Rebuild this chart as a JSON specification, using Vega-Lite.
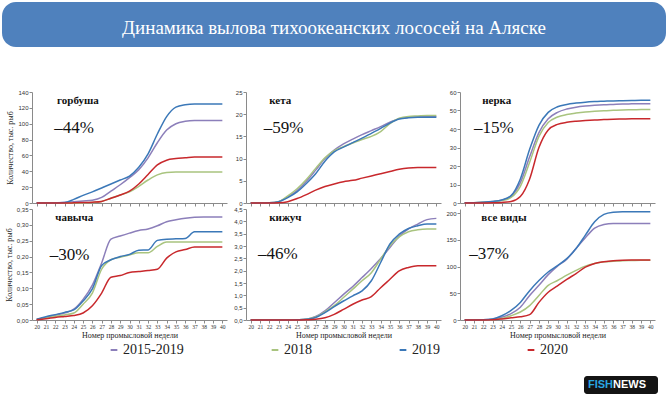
{
"$schema": "https://vega.github.io/schema/vega-lite/v6.json",
"background": "white",
"padding": {"left": 2, "right": 2, "top": 2, "bottom": 0},
"config": {
  "locale": {"number": {"decimal": ",", "thousands": " ", "grouping": [3], "currency": ["", ""]}},
  "view": {"stroke": null},
  "font": "Liberation Serif",
  "axis": {"domainColor": "#8a8a8a", "tickColor": "#8a8a8a", "tickSize": 3, "grid": false, "labelColor": "#333333", "labelFontSize": 6, "labelPadding": 1, "labelOverlap": false, "labelFlush": false, "titleFont": "Liberation Serif", "titleFontSize": 8, "titleFontWeight": "normal", "titleColor": "#222222"},
  "axisY": {"labelFont": "Liberation Sans", "titlePadding": 3},
  "axisX": {"labelFont": "Liberation Serif", "labelFontSize": 5.5, "labelAngle": 0, "titlePadding": 2},
  "legend": {"orient": "none", "legendX": 105, "legendY": 341, "direction": "horizontal", "columns": 4, "columnPadding": 83, "labelFont": "Liberation Serif", "labelFontSize": 14, "labelColor": "#222222", "symbolType": "stroke", "symbolStrokeWidth": 2, "symbolSize": 45, "labelOffset": 2, "padding": 0}
},
"datasets": {
"labels": [
 {"species": "горбуша", "pct": "–44%"},
 {"species": "кета", "pct": "–59%"},
 {"species": "нерка", "pct": "–15%"},
 {"species": "чавыча", "pct": "–30%"},
 {"species": "кижуч", "pct": "–46%"},
 {"species": "все виды", "pct": "–37%"}
],
"catch": [
{"species":"горбуша","series":"2015-2019","week":20,"value":0},{"species":"горбуша","series":"2015-2019","week":21,"value":0},{"species":"горбуша","series":"2015-2019","week":22,"value":0.2},{"species":"горбуша","series":"2015-2019","week":23,"value":0.5},{"species":"горбуша","series":"2015-2019","week":24,"value":1.5},{"species":"горбуша","series":"2015-2019","week":25,"value":2.5},{"species":"горбуша","series":"2015-2019","week":26,"value":3.5},{"species":"горбуша","series":"2015-2019","week":27,"value":7},{"species":"горбуша","series":"2015-2019","week":28,"value":15},{"species":"горбуша","series":"2015-2019","week":29,"value":23},{"species":"горбуша","series":"2015-2019","week":30,"value":32},{"species":"горбуша","series":"2015-2019","week":31,"value":42},{"species":"горбуша","series":"2015-2019","week":32,"value":57},{"species":"горбуша","series":"2015-2019","week":33,"value":76},{"species":"горбуша","series":"2015-2019","week":34,"value":92},{"species":"горбуша","series":"2015-2019","week":35,"value":100},{"species":"горбуша","series":"2015-2019","week":36,"value":103},{"species":"горбуша","series":"2015-2019","week":37,"value":104},{"species":"горбуша","series":"2015-2019","week":38,"value":104},{"species":"горбуша","series":"2015-2019","week":39,"value":104},{"species":"горбуша","series":"2015-2019","week":40,"value":104},
{"species":"горбуша","series":"2018","week":20,"value":0},{"species":"горбуша","series":"2018","week":21,"value":0},{"species":"горбуша","series":"2018","week":22,"value":0},{"species":"горбуша","series":"2018","week":23,"value":0},{"species":"горбуша","series":"2018","week":24,"value":0},{"species":"горбуша","series":"2018","week":25,"value":0.2},{"species":"горбуша","series":"2018","week":26,"value":0.5},{"species":"горбуша","series":"2018","week":27,"value":2},{"species":"горбуша","series":"2018","week":28,"value":6},{"species":"горбуша","series":"2018","week":29,"value":10},{"species":"горбуша","series":"2018","week":30,"value":14},{"species":"горбуша","series":"2018","week":31,"value":21},{"species":"горбуша","series":"2018","week":32,"value":29},{"species":"горбуша","series":"2018","week":33,"value":35.5},{"species":"горбуша","series":"2018","week":34,"value":38.5},{"species":"горбуша","series":"2018","week":35,"value":39},{"species":"горбуша","series":"2018","week":36,"value":39},{"species":"горбуша","series":"2018","week":37,"value":39},{"species":"горбуша","series":"2018","week":38,"value":39},{"species":"горбуша","series":"2018","week":39,"value":39},{"species":"горбуша","series":"2018","week":40,"value":39},
{"species":"горбуша","series":"2019","week":20,"value":0},{"species":"горбуша","series":"2019","week":21,"value":0},{"species":"горбуша","series":"2019","week":22,"value":0},{"species":"горбуша","series":"2019","week":23,"value":0.5},{"species":"горбуша","series":"2019","week":24,"value":4.6},{"species":"горбуша","series":"2019","week":25,"value":9.6},{"species":"горбуша","series":"2019","week":26,"value":14},{"species":"горбуша","series":"2019","week":27,"value":19},{"species":"горбуша","series":"2019","week":28,"value":24},{"species":"горбуша","series":"2019","week":29,"value":29},{"species":"горбуша","series":"2019","week":30,"value":34},{"species":"горбуша","series":"2019","week":31,"value":45},{"species":"горбуша","series":"2019","week":32,"value":62},{"species":"горбуша","series":"2019","week":33,"value":87},{"species":"горбуша","series":"2019","week":34,"value":109},{"species":"горбуша","series":"2019","week":35,"value":121},{"species":"горбуша","series":"2019","week":36,"value":124},{"species":"горбуша","series":"2019","week":37,"value":125},{"species":"горбуша","series":"2019","week":38,"value":125},{"species":"горбуша","series":"2019","week":39,"value":125},{"species":"горбуша","series":"2019","week":40,"value":125},
{"species":"горбуша","series":"2020","week":20,"value":0},{"species":"горбуша","series":"2020","week":21,"value":0},{"species":"горбуша","series":"2020","week":22,"value":0},{"species":"горбуша","series":"2020","week":23,"value":0},{"species":"горбуша","series":"2020","week":24,"value":0.2},{"species":"горбуша","series":"2020","week":25,"value":0.5},{"species":"горбуша","series":"2020","week":26,"value":1},{"species":"горбуша","series":"2020","week":27,"value":2},{"species":"горбуша","series":"2020","week":28,"value":6},{"species":"горбуша","series":"2020","week":29,"value":10},{"species":"горбуша","series":"2020","week":30,"value":15},{"species":"горбуша","series":"2020","week":31,"value":24},{"species":"горбуша","series":"2020","week":32,"value":36},{"species":"горбуша","series":"2020","week":33,"value":48},{"species":"горбуша","series":"2020","week":34,"value":54},{"species":"горбуша","series":"2020","week":35,"value":56},{"species":"горбуша","series":"2020","week":36,"value":57},{"species":"горбуша","series":"2020","week":37,"value":58},{"species":"горбуша","series":"2020","week":38,"value":58},{"species":"горбуша","series":"2020","week":39,"value":58},{"species":"горбуша","series":"2020","week":40,"value":58},
{"species":"кета","series":"2015-2019","week":20,"value":0},{"species":"кета","series":"2015-2019","week":21,"value":0},{"species":"кета","series":"2015-2019","week":22,"value":0.05},{"species":"кета","series":"2015-2019","week":23,"value":0.3},{"species":"кета","series":"2015-2019","week":24,"value":1.4},{"species":"кета","series":"2015-2019","week":25,"value":2.8},{"species":"кета","series":"2015-2019","week":26,"value":4.9},{"species":"кета","series":"2015-2019","week":27,"value":7.4},{"species":"кета","series":"2015-2019","week":28,"value":10},{"species":"кета","series":"2015-2019","week":29,"value":11.9},{"species":"кета","series":"2015-2019","week":30,"value":13.3},{"species":"кета","series":"2015-2019","week":31,"value":14.4},{"species":"кета","series":"2015-2019","week":32,"value":15.4},{"species":"кета","series":"2015-2019","week":33,"value":16.3},{"species":"кета","series":"2015-2019","week":34,"value":17.2},{"species":"кета","series":"2015-2019","week":35,"value":18.2},{"species":"кета","series":"2015-2019","week":36,"value":19.0},{"species":"кета","series":"2015-2019","week":37,"value":19.3},{"species":"кета","series":"2015-2019","week":38,"value":19.4},{"species":"кета","series":"2015-2019","week":39,"value":19.5},{"species":"кета","series":"2015-2019","week":40,"value":19.5},
{"species":"кета","series":"2018","week":20,"value":0},{"species":"кета","series":"2018","week":21,"value":0},{"species":"кета","series":"2018","week":22,"value":0.05},{"species":"кета","series":"2018","week":23,"value":0.3},{"species":"кета","series":"2018","week":24,"value":1.6},{"species":"кета","series":"2018","week":25,"value":3.2},{"species":"кета","series":"2018","week":26,"value":5.3},{"species":"кета","series":"2018","week":27,"value":7.8},{"species":"кета","series":"2018","week":28,"value":10.2},{"species":"кета","series":"2018","week":29,"value":11.8},{"species":"кета","series":"2018","week":30,"value":12.7},{"species":"кета","series":"2018","week":31,"value":13.5},{"species":"кета","series":"2018","week":32,"value":14.3},{"species":"кета","series":"2018","week":33,"value":15.0},{"species":"кета","series":"2018","week":34,"value":16.1},{"species":"кета","series":"2018","week":35,"value":17.9},{"species":"кета","series":"2018","week":36,"value":19.1},{"species":"кета","series":"2018","week":37,"value":19.5},{"species":"кета","series":"2018","week":38,"value":19.6},{"species":"кета","series":"2018","week":39,"value":19.7},{"species":"кета","series":"2018","week":40,"value":19.7},
{"species":"кета","series":"2019","week":20,"value":0},{"species":"кета","series":"2019","week":21,"value":0},{"species":"кета","series":"2019","week":22,"value":0.05},{"species":"кета","series":"2019","week":23,"value":0.3},{"species":"кета","series":"2019","week":24,"value":1.2},{"species":"кета","series":"2019","week":25,"value":2.5},{"species":"кета","series":"2019","week":26,"value":4.4},{"species":"кета","series":"2019","week":27,"value":6.6},{"species":"кета","series":"2019","week":28,"value":9.4},{"species":"кета","series":"2019","week":29,"value":11.5},{"species":"кета","series":"2019","week":30,"value":12.6},{"species":"кета","series":"2019","week":31,"value":13.6},{"species":"кета","series":"2019","week":32,"value":14.6},{"species":"кета","series":"2019","week":33,"value":15.7},{"species":"кета","series":"2019","week":34,"value":16.8},{"species":"кета","series":"2019","week":35,"value":18.0},{"species":"кета","series":"2019","week":36,"value":18.9},{"species":"кета","series":"2019","week":37,"value":19.2},{"species":"кета","series":"2019","week":38,"value":19.3},{"species":"кета","series":"2019","week":39,"value":19.3},{"species":"кета","series":"2019","week":40,"value":19.3},
{"species":"кета","series":"2020","week":20,"value":0},{"species":"кета","series":"2020","week":21,"value":0},{"species":"кета","series":"2020","week":22,"value":0},{"species":"кета","series":"2020","week":23,"value":0.05},{"species":"кета","series":"2020","week":24,"value":0.3},{"species":"кета","series":"2020","week":25,"value":1.0},{"species":"кета","series":"2020","week":26,"value":1.9},{"species":"кета","series":"2020","week":27,"value":2.9},{"species":"кета","series":"2020","week":28,"value":3.7},{"species":"кета","series":"2020","week":29,"value":4.3},{"species":"кета","series":"2020","week":30,"value":4.8},{"species":"кета","series":"2020","week":31,"value":5.1},{"species":"кета","series":"2020","week":32,"value":5.6},{"species":"кета","series":"2020","week":33,"value":6.1},{"species":"кета","series":"2020","week":34,"value":6.6},{"species":"кета","series":"2020","week":35,"value":7.1},{"species":"кета","series":"2020","week":36,"value":7.6},{"species":"кета","series":"2020","week":37,"value":7.9},{"species":"кета","series":"2020","week":38,"value":8.0},{"species":"кета","series":"2020","week":39,"value":8.0},{"species":"кета","series":"2020","week":40,"value":8.0},
{"species":"нерка","series":"2015-2019","week":20,"value":0.1},{"species":"нерка","series":"2015-2019","week":21,"value":0.2},{"species":"нерка","series":"2015-2019","week":22,"value":0.4},{"species":"нерка","series":"2015-2019","week":23,"value":0.8},{"species":"нерка","series":"2015-2019","week":24,"value":1.5},{"species":"нерка","series":"2015-2019","week":25,"value":3.6},{"species":"нерка","series":"2015-2019","week":26,"value":11},{"species":"нерка","series":"2015-2019","week":27,"value":25},{"species":"нерка","series":"2015-2019","week":28,"value":38},{"species":"нерка","series":"2015-2019","week":29,"value":45.5},{"species":"нерка","series":"2015-2019","week":30,"value":49},{"species":"нерка","series":"2015-2019","week":31,"value":50.8},{"species":"нерка","series":"2015-2019","week":32,"value":51.8},{"species":"нерка","series":"2015-2019","week":33,"value":52.4},{"species":"нерка","series":"2015-2019","week":34,"value":52.8},{"species":"нерка","series":"2015-2019","week":35,"value":53.1},{"species":"нерка","series":"2015-2019","week":36,"value":53.3},{"species":"нерка","series":"2015-2019","week":37,"value":53.5},{"species":"нерка","series":"2015-2019","week":38,"value":53.6},{"species":"нерка","series":"2015-2019","week":39,"value":53.7},{"species":"нерка","series":"2015-2019","week":40,"value":53.7},
{"species":"нерка","series":"2018","week":20,"value":0.1},{"species":"нерка","series":"2018","week":21,"value":0.2},{"species":"нерка","series":"2018","week":22,"value":0.4},{"species":"нерка","series":"2018","week":23,"value":0.7},{"species":"нерка","series":"2018","week":24,"value":1.3},{"species":"нерка","series":"2018","week":25,"value":3.0},{"species":"нерка","series":"2018","week":26,"value":9},{"species":"нерка","series":"2018","week":27,"value":22},{"species":"нерка","series":"2018","week":28,"value":36},{"species":"нерка","series":"2018","week":29,"value":43.5},{"species":"нерка","series":"2018","week":30,"value":46.5},{"species":"нерка","series":"2018","week":31,"value":47.8},{"species":"нерка","series":"2018","week":32,"value":48.6},{"species":"нерка","series":"2018","week":33,"value":49.2},{"species":"нерка","series":"2018","week":34,"value":49.6},{"species":"нерка","series":"2018","week":35,"value":49.9},{"species":"нерка","series":"2018","week":36,"value":50.1},{"species":"нерка","series":"2018","week":37,"value":50.3},{"species":"нерка","series":"2018","week":38,"value":50.4},{"species":"нерка","series":"2018","week":39,"value":50.5},{"species":"нерка","series":"2018","week":40,"value":50.6},
{"species":"нерка","series":"2019","week":20,"value":0.1},{"species":"нерка","series":"2019","week":21,"value":0.2},{"species":"нерка","series":"2019","week":22,"value":0.4},{"species":"нерка","series":"2019","week":23,"value":0.8},{"species":"нерка","series":"2019","week":24,"value":1.6},{"species":"нерка","series":"2019","week":25,"value":4.0},{"species":"нерка","series":"2019","week":26,"value":13},{"species":"нерка","series":"2019","week":27,"value":29},{"species":"нерка","series":"2019","week":28,"value":42},{"species":"нерка","series":"2019","week":29,"value":49},{"species":"нерка","series":"2019","week":30,"value":52},{"species":"нерка","series":"2019","week":31,"value":53.3},{"species":"нерка","series":"2019","week":32,"value":54.0},{"species":"нерка","series":"2019","week":33,"value":54.5},{"species":"нерка","series":"2019","week":34,"value":54.8},{"species":"нерка","series":"2019","week":35,"value":55.0},{"species":"нерка","series":"2019","week":36,"value":55.2},{"species":"нерка","series":"2019","week":37,"value":55.3},{"species":"нерка","series":"2019","week":38,"value":55.4},{"species":"нерка","series":"2019","week":39,"value":55.5},{"species":"нерка","series":"2019","week":40,"value":55.5},
{"species":"нерка","series":"2020","week":20,"value":0},{"species":"нерка","series":"2020","week":21,"value":0},{"species":"нерка","series":"2020","week":22,"value":0},{"species":"нерка","series":"2020","week":23,"value":0.1},{"species":"нерка","series":"2020","week":24,"value":0.3},{"species":"нерка","series":"2020","week":25,"value":0.8},{"species":"нерка","series":"2020","week":26,"value":3.5},{"species":"нерка","series":"2020","week":27,"value":13},{"species":"нерка","series":"2020","week":28,"value":30},{"species":"нерка","series":"2020","week":29,"value":39.5},{"species":"нерка","series":"2020","week":30,"value":42.5},{"species":"нерка","series":"2020","week":31,"value":43.6},{"species":"нерка","series":"2020","week":32,"value":44.2},{"species":"нерка","series":"2020","week":33,"value":44.6},{"species":"нерка","series":"2020","week":34,"value":44.9},{"species":"нерка","series":"2020","week":35,"value":45.1},{"species":"нерка","series":"2020","week":36,"value":45.3},{"species":"нерка","series":"2020","week":37,"value":45.4},{"species":"нерка","series":"2020","week":38,"value":45.5},{"species":"нерка","series":"2020","week":39,"value":45.5},{"species":"нерка","series":"2020","week":40,"value":45.5},
{"species":"чавыча","series":"2015-2019","week":20,"value":0.002},{"species":"чавыча","series":"2015-2019","week":21,"value":0.008},{"species":"чавыча","series":"2015-2019","week":22,"value":0.015},{"species":"чавыча","series":"2015-2019","week":23,"value":0.022},{"species":"чавыча","series":"2015-2019","week":24,"value":0.034},{"species":"чавыча","series":"2015-2019","week":25,"value":0.065},{"species":"чавыча","series":"2015-2019","week":26,"value":0.11},{"species":"чавыча","series":"2015-2019","week":27,"value":0.18},{"species":"чавыча","series":"2015-2019","week":28,"value":0.255},{"species":"чавыча","series":"2015-2019","week":29,"value":0.265},{"species":"чавыча","series":"2015-2019","week":30,"value":0.274},{"species":"чавыча","series":"2015-2019","week":31,"value":0.282},{"species":"чавыча","series":"2015-2019","week":32,"value":0.287},{"species":"чавыча","series":"2015-2019","week":33,"value":0.297},{"species":"чавыча","series":"2015-2019","week":34,"value":0.31},{"species":"чавыча","series":"2015-2019","week":35,"value":0.316},{"species":"чавыча","series":"2015-2019","week":36,"value":0.321},{"species":"чавыча","series":"2015-2019","week":37,"value":0.324},{"species":"чавыча","series":"2015-2019","week":38,"value":0.325},{"species":"чавыча","series":"2015-2019","week":39,"value":0.325},{"species":"чавыча","series":"2015-2019","week":40,"value":0.325},
{"species":"чавыча","series":"2018","week":20,"value":0.002},{"species":"чавыча","series":"2018","week":21,"value":0.007},{"species":"чавыча","series":"2018","week":22,"value":0.012},{"species":"чавыча","series":"2018","week":23,"value":0.016},{"species":"чавыча","series":"2018","week":24,"value":0.022},{"species":"чавыча","series":"2018","week":25,"value":0.05},{"species":"чавыча","series":"2018","week":26,"value":0.085},{"species":"чавыча","series":"2018","week":27,"value":0.16},{"species":"чавыча","series":"2018","week":28,"value":0.19},{"species":"чавыча","series":"2018","week":29,"value":0.198},{"species":"чавыча","series":"2018","week":30,"value":0.205},{"species":"чавыча","series":"2018","week":31,"value":0.212},{"species":"чавыча","series":"2018","week":32,"value":0.212},{"species":"чавыча","series":"2018","week":33,"value":0.232},{"species":"чавыча","series":"2018","week":34,"value":0.246},{"species":"чавыча","series":"2018","week":35,"value":0.246},{"species":"чавыча","series":"2018","week":36,"value":0.246},{"species":"чавыча","series":"2018","week":37,"value":0.246},{"species":"чавыча","series":"2018","week":38,"value":0.246},{"species":"чавыча","series":"2018","week":39,"value":0.246},{"species":"чавыча","series":"2018","week":40,"value":0.246},
{"species":"чавыча","series":"2019","week":20,"value":0.002},{"species":"чавыча","series":"2019","week":21,"value":0.01},{"species":"чавыча","series":"2019","week":22,"value":0.017},{"species":"чавыча","series":"2019","week":23,"value":0.024},{"species":"чавыча","series":"2019","week":24,"value":0.032},{"species":"чавыча","series":"2019","week":25,"value":0.06},{"species":"чавыча","series":"2019","week":26,"value":0.098},{"species":"чавыча","series":"2019","week":27,"value":0.172},{"species":"чавыча","series":"2019","week":28,"value":0.19},{"species":"чавыча","series":"2019","week":29,"value":0.2},{"species":"чавыча","series":"2019","week":30,"value":0.207},{"species":"чавыча","series":"2019","week":31,"value":0.22},{"species":"чавыча","series":"2019","week":32,"value":0.221},{"species":"чавыча","series":"2019","week":33,"value":0.251},{"species":"чавыча","series":"2019","week":34,"value":0.255},{"species":"чавыча","series":"2019","week":35,"value":0.256},{"species":"чавыча","series":"2019","week":36,"value":0.257},{"species":"чавыча","series":"2019","week":37,"value":0.278},{"species":"чавыча","series":"2019","week":38,"value":0.278},{"species":"чавыча","series":"2019","week":39,"value":0.278},{"species":"чавыча","series":"2019","week":40,"value":0.278},
{"species":"чавыча","series":"2020","week":20,"value":0.001},{"species":"чавыча","series":"2020","week":21,"value":0.004},{"species":"чавыча","series":"2020","week":22,"value":0.008},{"species":"чавыча","series":"2020","week":23,"value":0.011},{"species":"чавыча","series":"2020","week":24,"value":0.014},{"species":"чавыча","series":"2020","week":25,"value":0.022},{"species":"чавыча","series":"2020","week":26,"value":0.045},{"species":"чавыча","series":"2020","week":27,"value":0.085},{"species":"чавыча","series":"2020","week":28,"value":0.135},{"species":"чавыча","series":"2020","week":29,"value":0.14},{"species":"чавыча","series":"2020","week":30,"value":0.15},{"species":"чавыча","series":"2020","week":31,"value":0.153},{"species":"чавыча","series":"2020","week":32,"value":0.156},{"species":"чавыча","series":"2020","week":33,"value":0.16},{"species":"чавыча","series":"2020","week":34,"value":0.195},{"species":"чавыча","series":"2020","week":35,"value":0.215},{"species":"чавыча","series":"2020","week":36,"value":0.222},{"species":"чавыча","series":"2020","week":37,"value":0.23},{"species":"чавыча","series":"2020","week":38,"value":0.23},{"species":"чавыча","series":"2020","week":39,"value":0.23},{"species":"чавыча","series":"2020","week":40,"value":0.23},
{"species":"кижуч","series":"2015-2019","week":20,"value":0},{"species":"кижуч","series":"2015-2019","week":21,"value":0},{"species":"кижуч","series":"2015-2019","week":22,"value":0},{"species":"кижуч","series":"2015-2019","week":23,"value":0},{"species":"кижуч","series":"2015-2019","week":24,"value":0},{"species":"кижуч","series":"2015-2019","week":25,"value":0.01},{"species":"кижуч","series":"2015-2019","week":26,"value":0.03},{"species":"кижуч","series":"2015-2019","week":27,"value":0.14},{"species":"кижуч","series":"2015-2019","week":28,"value":0.37},{"species":"кижуч","series":"2015-2019","week":29,"value":0.7},{"species":"кижуч","series":"2015-2019","week":30,"value":1.04},{"species":"кижуч","series":"2015-2019","week":31,"value":1.36},{"species":"кижуч","series":"2015-2019","week":32,"value":1.72},{"species":"кижуч","series":"2015-2019","week":33,"value":2.09},{"species":"кижуч","series":"2015-2019","week":34,"value":2.49},{"species":"кижуч","series":"2015-2019","week":35,"value":2.94},{"species":"кижуч","series":"2015-2019","week":36,"value":3.39},{"species":"кижуч","series":"2015-2019","week":37,"value":3.69},{"species":"кижуч","series":"2015-2019","week":38,"value":3.89},{"species":"кижуч","series":"2015-2019","week":39,"value":4.07},{"species":"кижуч","series":"2015-2019","week":40,"value":4.12},
{"species":"кижуч","series":"2018","week":20,"value":0},{"species":"кижуч","series":"2018","week":21,"value":0},{"species":"кижуч","series":"2018","week":22,"value":0},{"species":"кижуч","series":"2018","week":23,"value":0},{"species":"кижуч","series":"2018","week":24,"value":0},{"species":"кижуч","series":"2018","week":25,"value":0.01},{"species":"кижуч","series":"2018","week":26,"value":0.03},{"species":"кижуч","series":"2018","week":27,"value":0.12},{"species":"кижуч","series":"2018","week":28,"value":0.33},{"species":"кижуч","series":"2018","week":29,"value":0.58},{"species":"кижуч","series":"2018","week":30,"value":0.91},{"species":"кижуч","series":"2018","week":31,"value":1.25},{"species":"кижуч","series":"2018","week":32,"value":1.59},{"species":"кижуч","series":"2018","week":33,"value":1.92},{"species":"кижуч","series":"2018","week":34,"value":2.47},{"species":"кижуч","series":"2018","week":35,"value":3.01},{"species":"кижуч","series":"2018","week":36,"value":3.37},{"species":"кижуч","series":"2018","week":37,"value":3.58},{"species":"кижуч","series":"2018","week":38,"value":3.66},{"species":"кижуч","series":"2018","week":39,"value":3.69},{"species":"кижуч","series":"2018","week":40,"value":3.69},
{"species":"кижуч","series":"2019","week":20,"value":0},{"species":"кижуч","series":"2019","week":21,"value":0},{"species":"кижуч","series":"2019","week":22,"value":0},{"species":"кижуч","series":"2019","week":23,"value":0},{"species":"кижуч","series":"2019","week":24,"value":0},{"species":"кижуч","series":"2019","week":25,"value":0.01},{"species":"кижуч","series":"2019","week":26,"value":0.03},{"species":"кижуч","series":"2019","week":27,"value":0.1},{"species":"кижуч","series":"2019","week":28,"value":0.3},{"species":"кижуч","series":"2019","week":29,"value":0.54},{"species":"кижуч","series":"2019","week":30,"value":0.77},{"species":"кижуч","series":"2019","week":31,"value":0.98},{"species":"кижуч","series":"2019","week":32,"value":1.18},{"species":"кижуч","series":"2019","week":33,"value":1.59},{"species":"кижуч","series":"2019","week":34,"value":2.33},{"species":"кижуч","series":"2019","week":35,"value":3.08},{"species":"кижуч","series":"2019","week":36,"value":3.48},{"species":"кижуч","series":"2019","week":37,"value":3.71},{"species":"кижуч","series":"2019","week":38,"value":3.82},{"species":"кижуч","series":"2019","week":39,"value":3.89},{"species":"кижуч","series":"2019","week":40,"value":3.89},
{"species":"кижуч","series":"2020","week":20,"value":0},{"species":"кижуч","series":"2020","week":21,"value":0},{"species":"кижуч","series":"2020","week":22,"value":0},{"species":"кижуч","series":"2020","week":23,"value":0},{"species":"кижуч","series":"2020","week":24,"value":0},{"species":"кижуч","series":"2020","week":25,"value":0},{"species":"кижуч","series":"2020","week":26,"value":0.01},{"species":"кижуч","series":"2020","week":27,"value":0.03},{"species":"кижуч","series":"2020","week":28,"value":0.09},{"species":"кижуч","series":"2020","week":29,"value":0.23},{"species":"кижуч","series":"2020","week":30,"value":0.43},{"species":"кижуч","series":"2020","week":31,"value":0.64},{"species":"кижуч","series":"2020","week":32,"value":0.81},{"species":"кижуч","series":"2020","week":33,"value":0.95},{"species":"кижуч","series":"2020","week":34,"value":1.31},{"species":"кижуч","series":"2020","week":35,"value":1.65},{"species":"кижуч","series":"2020","week":36,"value":1.99},{"species":"кижуч","series":"2020","week":37,"value":2.13},{"species":"кижуч","series":"2020","week":38,"value":2.2},{"species":"кижуч","series":"2020","week":39,"value":2.2},{"species":"кижуч","series":"2020","week":40,"value":2.2},
{"species":"все виды","series":"2015-2019","week":20,"value":0},{"species":"все виды","series":"2015-2019","week":21,"value":0},{"species":"все виды","series":"2015-2019","week":22,"value":0.3},{"species":"все виды","series":"2015-2019","week":23,"value":1.5},{"species":"все виды","series":"2015-2019","week":24,"value":5},{"species":"все виды","series":"2015-2019","week":25,"value":12},{"species":"все виды","series":"2015-2019","week":26,"value":24},{"species":"все виды","series":"2015-2019","week":27,"value":46},{"species":"все виды","series":"2015-2019","week":28,"value":65},{"species":"все виды","series":"2015-2019","week":29,"value":85},{"species":"все виды","series":"2015-2019","week":30,"value":101},{"species":"все виды","series":"2015-2019","week":31,"value":114},{"species":"все виды","series":"2015-2019","week":32,"value":134},{"species":"все виды","series":"2015-2019","week":33,"value":154},{"species":"все виды","series":"2015-2019","week":34,"value":172},{"species":"все виды","series":"2015-2019","week":35,"value":179},{"species":"все виды","series":"2015-2019","week":36,"value":181},{"species":"все виды","series":"2015-2019","week":37,"value":181},{"species":"все виды","series":"2015-2019","week":38,"value":181},{"species":"все виды","series":"2015-2019","week":39,"value":181},{"species":"все виды","series":"2015-2019","week":40,"value":181},
{"species":"все виды","series":"2018","week":20,"value":0},{"species":"все виды","series":"2018","week":21,"value":0},{"species":"все виды","series":"2018","week":22,"value":0.2},{"species":"все виды","series":"2018","week":23,"value":1},{"species":"все виды","series":"2018","week":24,"value":3},{"species":"все виды","series":"2018","week":25,"value":8},{"species":"все виды","series":"2018","week":26,"value":15},{"species":"все виды","series":"2018","week":27,"value":27},{"species":"все виды","series":"2018","week":28,"value":46},{"species":"все виды","series":"2018","week":29,"value":65},{"species":"все виды","series":"2018","week":30,"value":74},{"species":"все виды","series":"2018","week":31,"value":84},{"species":"все виды","series":"2018","week":32,"value":93},{"species":"все виды","series":"2018","week":33,"value":101},{"species":"все виды","series":"2018","week":34,"value":106},{"species":"все виды","series":"2018","week":35,"value":109},{"species":"все виды","series":"2018","week":36,"value":110},{"species":"все виды","series":"2018","week":37,"value":111},{"species":"все виды","series":"2018","week":38,"value":111.5},{"species":"все виды","series":"2018","week":39,"value":112},{"species":"все виды","series":"2018","week":40,"value":112},
{"species":"все виды","series":"2019","week":20,"value":0},{"species":"все виды","series":"2019","week":21,"value":0},{"species":"все виды","series":"2019","week":22,"value":0.3},{"species":"все виды","series":"2019","week":23,"value":2},{"species":"все виды","series":"2019","week":24,"value":8},{"species":"все виды","series":"2019","week":25,"value":18},{"species":"все виды","series":"2019","week":26,"value":33},{"species":"все виды","series":"2019","week":27,"value":55},{"species":"все виды","series":"2019","week":28,"value":74},{"species":"все виды","series":"2019","week":29,"value":90},{"species":"все виды","series":"2019","week":30,"value":102},{"species":"все виды","series":"2019","week":31,"value":115},{"species":"все виды","series":"2019","week":32,"value":134},{"species":"все виды","series":"2019","week":33,"value":159},{"species":"все виды","series":"2019","week":34,"value":184},{"species":"все виды","series":"2019","week":35,"value":198},{"species":"все виды","series":"2019","week":36,"value":202},{"species":"все виды","series":"2019","week":37,"value":203},{"species":"все виды","series":"2019","week":38,"value":203},{"species":"все виды","series":"2019","week":39,"value":203},{"species":"все виды","series":"2019","week":40,"value":203},
{"species":"все виды","series":"2020","week":20,"value":0},{"species":"все виды","series":"2020","week":21,"value":0},{"species":"все виды","series":"2020","week":22,"value":0.1},{"species":"все виды","series":"2020","week":23,"value":0.5},{"species":"все виды","series":"2020","week":24,"value":2},{"species":"все виды","series":"2020","week":25,"value":4},{"species":"все виды","series":"2020","week":26,"value":6},{"species":"все виды","series":"2020","week":27,"value":10},{"species":"все виды","series":"2020","week":28,"value":33},{"species":"все виды","series":"2020","week":29,"value":52},{"species":"все виды","series":"2020","week":30,"value":64},{"species":"все виды","series":"2020","week":31,"value":76},{"species":"все виды","series":"2020","week":32,"value":87},{"species":"все виды","series":"2020","week":33,"value":99},{"species":"все виды","series":"2020","week":34,"value":106},{"species":"все виды","series":"2020","week":35,"value":109},{"species":"все виды","series":"2020","week":36,"value":111},{"species":"все виды","series":"2020","week":37,"value":112},{"species":"все виды","series":"2020","week":38,"value":112.5},{"species":"все виды","series":"2020","week":39,"value":112.5},{"species":"все виды","series":"2020","week":40,"value":112.5}
]
},
"spacing": 42,
"center": false,
"bounds": "full",
"vconcat": [
 {
  "width": 664, "height": 45,
  "view": {"fill": "#4f81bd", "stroke": null, "cornerRadius": 14},
  "data": {"values": [{"title": "Динамика вылова тихоокеанских лососей на Аляске"}]},
  "mark": {"type": "text", "font": "Liberation Serif", "fontSize": 19, "color": "white", "baseline": "middle", "dy": 3},
  "encoding": {"text": {"field": "title"}}
 },
 {
  "spacing": 36,
  "center": false,
  "bounds": "full",
  "vconcat": [
   {
    "columns": 4,
    "spacing": {"row": 6, "column": 19},
    "bounds": "flush",
    "concat": [
     {"width": 11, "height": 111, "data": {"values": [{"t": ""}]}, "mark": {"type": "text"}, "encoding": {"text": {"field": "t"}}},
     {"width": 195, "height": 111, "layer": [
       {"data": {"name": "catch"}, "transform": [{"filter": "datum.species === 'горбуша'"}],
        "mark": {"type": "line", "interpolate": "monotone", "strokeWidth": 1.5},
        "encoding": {
         "x": {"field": "week", "type": "quantitative", "scale": {"domain": [19.5, 40.5], "nice": false, "zero": false}, "axis": {"values": [20,21,22,23,24,25,26,27,28,29,30,31,32,33,34,35,36,37,38,39,40], "labels": false, "title": null, "labelOverlap": false}},
         "y": {"field": "value", "type": "quantitative", "scale": {"domain": [0, 140], "nice": false}, "axis": {"values": [0,20,40,60,80,100,120,140], "format": "d", "title": "Количество, тыс. рыб", "labelOverlap": false}},
         "color": {"field": "series", "type": "nominal", "scale": {"domain": ["2015-2019","2018","2019","2020"], "range": ["#8c7fba","#a9c47f","#3b78b8","#c8282c"]}, "legend": {"title": null}}
        }},
       {"data": {"name": "labels"}, "transform": [{"filter": "datum.species === 'горбуша'"}],
        "mark": {"type": "text", "align": "left", "baseline": "middle", "font": "Liberation Serif", "fontSize": 11, "fontWeight": "bold", "color": "#111111"},
        "encoding": {"x": {"datum": 22.2, "type": "quantitative", "axis": {"values": [20,21,22,23,24,25,26,27,28,29,30,31,32,33,34,35,36,37,38,39,40], "labels": false, "title": null, "labelOverlap": false}}, "y": {"datum": 128.6, "type": "quantitative", "axis": {"values": [0,20,40,60,80,100,120,140], "format": "d", "title": "Количество, тыс. рыб", "labelOverlap": false}}, "text": {"field": "species"}}},
       {"data": {"name": "labels"}, "transform": [{"filter": "datum.species === 'горбуша'"}],
        "mark": {"type": "text", "align": "left", "baseline": "middle", "font": "Liberation Serif", "fontSize": 17, "color": "#111111"},
        "encoding": {"x": {"datum": 21.9, "type": "quantitative", "axis": {"values": [20,21,22,23,24,25,26,27,28,29,30,31,32,33,34,35,36,37,38,39,40], "labels": false, "title": null, "labelOverlap": false}}, "y": {"datum": 94.6, "type": "quantitative", "axis": {"values": [0,20,40,60,80,100,120,140], "format": "d", "title": "Количество, тыс. рыб", "labelOverlap": false}}, "text": {"field": "pct"}}}
     ]},
     {"width": 195, "height": 111, "layer": [
       {"data": {"name": "catch"}, "transform": [{"filter": "datum.species === 'кета'"}],
        "mark": {"type": "line", "interpolate": "monotone", "strokeWidth": 1.5},
        "encoding": {
         "x": {"field": "week", "type": "quantitative", "scale": {"domain": [19.5, 40.5], "nice": false, "zero": false}, "axis": {"values": [20,21,22,23,24,25,26,27,28,29,30,31,32,33,34,35,36,37,38,39,40], "labels": false, "title": null, "labelOverlap": false}},
         "y": {"field": "value", "type": "quantitative", "scale": {"domain": [0, 25], "nice": false}, "axis": {"values": [0,5,10,15,20,25], "format": "d", "title": null, "labelOverlap": false}},
         "color": {"field": "series", "type": "nominal", "scale": {"domain": ["2015-2019","2018","2019","2020"], "range": ["#8c7fba","#a9c47f","#3b78b8","#c8282c"]}, "legend": {"title": null}}
        }},
       {"data": {"name": "labels"}, "transform": [{"filter": "datum.species === 'кета'"}],
        "mark": {"type": "text", "align": "left", "baseline": "middle", "font": "Liberation Serif", "fontSize": 11, "fontWeight": "bold", "color": "#111111"},
        "encoding": {"x": {"datum": 22.0, "type": "quantitative", "axis": {"values": [20,21,22,23,24,25,26,27,28,29,30,31,32,33,34,35,36,37,38,39,40], "labels": false, "title": null, "labelOverlap": false}}, "y": {"datum": 23.0, "type": "quantitative", "axis": {"values": [0,5,10,15,20,25], "format": "d", "title": null, "labelOverlap": false}}, "text": {"field": "species"}}},
       {"data": {"name": "labels"}, "transform": [{"filter": "datum.species === 'кета'"}],
        "mark": {"type": "text", "align": "left", "baseline": "middle", "font": "Liberation Serif", "fontSize": 17, "color": "#111111"},
        "encoding": {"x": {"datum": 21.4, "type": "quantitative", "axis": {"values": [20,21,22,23,24,25,26,27,28,29,30,31,32,33,34,35,36,37,38,39,40], "labels": false, "title": null, "labelOverlap": false}}, "y": {"datum": 16.9, "type": "quantitative", "axis": {"values": [0,5,10,15,20,25], "format": "d", "title": null, "labelOverlap": false}}, "text": {"field": "pct"}}}
     ]},
     {"width": 195, "height": 111, "layer": [
       {"data": {"name": "catch"}, "transform": [{"filter": "datum.species === 'нерка'"}],
        "mark": {"type": "line", "interpolate": "monotone", "strokeWidth": 1.5},
        "encoding": {
         "x": {"field": "week", "type": "quantitative", "scale": {"domain": [19.5, 40.5], "nice": false, "zero": false}, "axis": {"values": [20,21,22,23,24,25,26,27,28,29,30,31,32,33,34,35,36,37,38,39,40], "labels": false, "title": null, "labelOverlap": false}},
         "y": {"field": "value", "type": "quantitative", "scale": {"domain": [0, 60], "nice": false}, "axis": {"values": [0,10,20,30,40,50,60], "format": "d", "title": null, "labelOverlap": false}},
         "color": {"field": "series", "type": "nominal", "scale": {"domain": ["2015-2019","2018","2019","2020"], "range": ["#8c7fba","#a9c47f","#3b78b8","#c8282c"]}, "legend": {"title": null}}
        }},
       {"data": {"name": "labels"}, "transform": [{"filter": "datum.species === 'нерка'"}],
        "mark": {"type": "text", "align": "left", "baseline": "middle", "font": "Liberation Serif", "fontSize": 11, "fontWeight": "bold", "color": "#111111"},
        "encoding": {"x": {"datum": 21.9, "type": "quantitative", "axis": {"values": [20,21,22,23,24,25,26,27,28,29,30,31,32,33,34,35,36,37,38,39,40], "labels": false, "title": null, "labelOverlap": false}}, "y": {"datum": 55.1, "type": "quantitative", "axis": {"values": [0,10,20,30,40,50,60], "format": "d", "title": null, "labelOverlap": false}}, "text": {"field": "species"}}},
       {"data": {"name": "labels"}, "transform": [{"filter": "datum.species === 'нерка'"}],
        "mark": {"type": "text", "align": "left", "baseline": "middle", "font": "Liberation Serif", "fontSize": 17, "color": "#111111"},
        "encoding": {"x": {"datum": 21.0, "type": "quantitative", "axis": {"values": [20,21,22,23,24,25,26,27,28,29,30,31,32,33,34,35,36,37,38,39,40], "labels": false, "title": null, "labelOverlap": false}}, "y": {"datum": 40.5, "type": "quantitative", "axis": {"values": [0,10,20,30,40,50,60], "format": "d", "title": null, "labelOverlap": false}}, "text": {"field": "pct"}}}
     ]},
     {"width": 11, "height": 111, "data": {"values": [{"t": ""}]}, "mark": {"type": "text"}, "encoding": {"text": {"field": "t"}}},
     {"width": 195, "height": 111, "layer": [
       {"data": {"name": "catch"}, "transform": [{"filter": "datum.species === 'чавыча'"}],
        "mark": {"type": "line", "interpolate": "monotone", "strokeWidth": 1.5},
        "encoding": {
         "x": {"field": "week", "type": "quantitative", "scale": {"domain": [19.5, 40.5], "nice": false, "zero": false}, "axis": {"values": [20,21,22,23,24,25,26,27,28,29,30,31,32,33,34,35,36,37,38,39,40], "format": "d", "title": "Номер промысловой недели", "labelOverlap": false}},
         "y": {"field": "value", "type": "quantitative", "scale": {"domain": [0, 0.35], "nice": false}, "axis": {"values": [0,0.05,0.1,0.15,0.2,0.25,0.3,0.35], "format": ".2f", "title": "Количество, тыс. рыб", "labelOverlap": false}},
         "color": {"field": "series", "type": "nominal", "scale": {"domain": ["2015-2019","2018","2019","2020"], "range": ["#8c7fba","#a9c47f","#3b78b8","#c8282c"]}, "legend": {"title": null}}
        }},
       {"data": {"name": "labels"}, "transform": [{"filter": "datum.species === 'чавыча'"}],
        "mark": {"type": "text", "align": "left", "baseline": "middle", "font": "Liberation Serif", "fontSize": 11, "fontWeight": "bold", "color": "#111111"},
        "encoding": {"x": {"datum": 22.0, "type": "quantitative", "axis": {"values": [20,21,22,23,24,25,26,27,28,29,30,31,32,33,34,35,36,37,38,39,40], "format": "d", "title": "Номер промысловой недели", "labelOverlap": false}}, "y": {"datum": 0.3216, "type": "quantitative", "axis": {"values": [0,0.05,0.1,0.15,0.2,0.25,0.3,0.35], "format": ".2f", "title": "Количество, тыс. рыб", "labelOverlap": false}}, "text": {"field": "species"}}},
       {"data": {"name": "labels"}, "transform": [{"filter": "datum.species === 'чавыча'"}],
        "mark": {"type": "text", "align": "left", "baseline": "middle", "font": "Liberation Serif", "fontSize": 17, "color": "#111111"},
        "encoding": {"x": {"datum": 21.4, "type": "quantitative", "axis": {"values": [20,21,22,23,24,25,26,27,28,29,30,31,32,33,34,35,36,37,38,39,40], "format": "d", "title": "Номер промысловой недели", "labelOverlap": false}}, "y": {"datum": 0.205, "type": "quantitative", "axis": {"values": [0,0.05,0.1,0.15,0.2,0.25,0.3,0.35], "format": ".2f", "title": "Количество, тыс. рыб", "labelOverlap": false}}, "text": {"field": "pct"}}}
     ]},
     {"width": 195, "height": 111, "layer": [
       {"data": {"name": "catch"}, "transform": [{"filter": "datum.species === 'кижуч'"}],
        "mark": {"type": "line", "interpolate": "monotone", "strokeWidth": 1.5},
        "encoding": {
         "x": {"field": "week", "type": "quantitative", "scale": {"domain": [19.5, 40.5], "nice": false, "zero": false}, "axis": {"values": [20,21,22,23,24,25,26,27,28,29,30,31,32,33,34,35,36,37,38,39,40], "format": "d", "title": "Номер промысловой недели", "labelOverlap": false}},
         "y": {"field": "value", "type": "quantitative", "scale": {"domain": [0, 4.5], "nice": false}, "axis": {"values": [0,0.5,1,1.5,2,2.5,3,3.5,4,4.5], "format": ".1f", "title": null, "labelOverlap": false}},
         "color": {"field": "series", "type": "nominal", "scale": {"domain": ["2015-2019","2018","2019","2020"], "range": ["#8c7fba","#a9c47f","#3b78b8","#c8282c"]}, "legend": {"title": null}}
        }},
       {"data": {"name": "labels"}, "transform": [{"filter": "datum.species === 'кижуч'"}],
        "mark": {"type": "text", "align": "left", "baseline": "middle", "font": "Liberation Serif", "fontSize": 11, "fontWeight": "bold", "color": "#111111"},
        "encoding": {"x": {"datum": 22.0, "type": "quantitative", "axis": {"values": [20,21,22,23,24,25,26,27,28,29,30,31,32,33,34,35,36,37,38,39,40], "format": "d", "title": "Номер промысловой недели", "labelOverlap": false}}, "y": {"datum": 4.135, "type": "quantitative", "axis": {"values": [0,0.5,1,1.5,2,2.5,3,3.5,4,4.5], "format": ".1f", "title": null, "labelOverlap": false}}, "text": {"field": "species"}}},
       {"data": {"name": "labels"}, "transform": [{"filter": "datum.species === 'кижуч'"}],
        "mark": {"type": "text", "align": "left", "baseline": "middle", "font": "Liberation Serif", "fontSize": 17, "color": "#111111"},
        "encoding": {"x": {"datum": 20.8, "type": "quantitative", "axis": {"values": [20,21,22,23,24,25,26,27,28,29,30,31,32,33,34,35,36,37,38,39,40], "format": "d", "title": "Номер промысловой недели", "labelOverlap": false}}, "y": {"datum": 2.676, "type": "quantitative", "axis": {"values": [0,0.5,1,1.5,2,2.5,3,3.5,4,4.5], "format": ".1f", "title": null, "labelOverlap": false}}, "text": {"field": "pct"}}}
     ]},
     {"width": 195, "height": 111, "layer": [
       {"data": {"name": "catch"}, "transform": [{"filter": "datum.species === 'все виды'"}],
        "mark": {"type": "line", "interpolate": "monotone", "strokeWidth": 1.5},
        "encoding": {
         "x": {"field": "week", "type": "quantitative", "scale": {"domain": [19.5, 40.5], "nice": false, "zero": false}, "axis": {"values": [20,21,22,23,24,25,26,27,28,29,30,31,32,33,34,35,36,37,38,39,40], "format": "d", "title": "Номер промысловой недели", "labelOverlap": false}},
         "y": {"field": "value", "type": "quantitative", "scale": {"domain": [0, 208], "nice": false}, "axis": {"values": [0,50,100,150,200], "format": "d", "title": null, "labelOverlap": false}},
         "color": {"field": "series", "type": "nominal", "scale": {"domain": ["2015-2019","2018","2019","2020"], "range": ["#8c7fba","#a9c47f","#3b78b8","#c8282c"]}, "legend": {"title": null}}
        }},
       {"data": {"name": "labels"}, "transform": [{"filter": "datum.species === 'все виды'"}],
        "mark": {"type": "text", "align": "left", "baseline": "middle", "font": "Liberation Serif", "fontSize": 11, "fontWeight": "bold", "color": "#111111"},
        "encoding": {"x": {"datum": 21.8, "type": "quantitative", "axis": {"values": [20,21,22,23,24,25,26,27,28,29,30,31,32,33,34,35,36,37,38,39,40], "format": "d", "title": "Номер промысловой недели", "labelOverlap": false}}, "y": {"datum": 191, "type": "quantitative", "axis": {"values": [0,50,100,150,200], "format": "d", "title": null, "labelOverlap": false}}, "text": {"field": "species"}}},
       {"data": {"name": "labels"}, "transform": [{"filter": "datum.species === 'все виды'"}],
        "mark": {"type": "text", "align": "left", "baseline": "middle", "font": "Liberation Serif", "fontSize": 17, "color": "#111111"},
        "encoding": {"x": {"datum": 20.5, "type": "quantitative", "axis": {"values": [20,21,22,23,24,25,26,27,28,29,30,31,32,33,34,35,36,37,38,39,40], "format": "d", "title": "Номер промысловой недели", "labelOverlap": false}}, "y": {"datum": 123.7, "type": "quantitative", "axis": {"values": [0,50,100,150,200], "format": "d", "title": null, "labelOverlap": false}}, "text": {"field": "pct"}}}
     ]}
    ]
   },
   {
    "spacing": 0,
    "hconcat": [
     {"width": 582, "height": 18, "data": {"values": [{"t": ""}]}, "mark": {"type": "text"}, "encoding": {"text": {"field": "t"}}},
     {"width": 74, "height": 18,
      "view": {"fill": "#141414", "stroke": null, "cornerRadius": 3},
      "data": {"values": [{"a": "FISH", "b": "NEWS"}]},
      "layer": [
       {"mark": {"type": "text", "align": "right", "baseline": "middle", "dx": -8, "font": "Liberation Sans", "fontSize": 11, "fontWeight": "bold", "color": "#2aa7e1"}, "encoding": {"text": {"field": "a"}}},
       {"mark": {"type": "text", "align": "left", "baseline": "middle", "dx": -8, "font": "Liberation Sans", "fontSize": 11, "fontWeight": "bold", "color": "#ffffff"}, "encoding": {"text": {"field": "b"}}}
      ]},
     {"width": 8, "height": 18, "data": {"values": [{"t": ""}]}, "mark": {"type": "text"}, "encoding": {"text": {"field": "t"}}}
    ]
   }
  ]
 }
]
}
